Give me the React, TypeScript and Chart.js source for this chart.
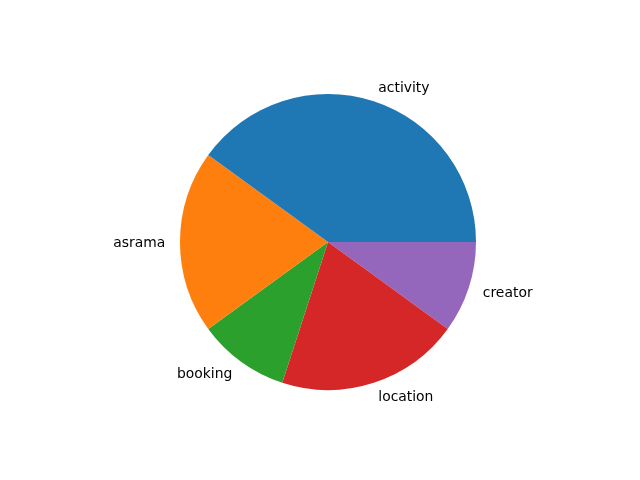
import React, { useEffect, useRef } from "react";
import { Chart, registerables } from "chart.js";

Chart.register(...registerables);

// Data in matplotlib order (counter-clockwise from 3 o'clock)
const categories = ["activity", "asrama", "booking", "location", "creator"];
const values = [40, 20, 10, 20, 10];
const colors = ["#1f77b4", "#ff7f0e", "#2ca02c", "#d62728", "#9467bd"];

// Chart.js draws clockwise, so reverse to mirror matplotlib's counter-clockwise layout
const cjLabels = [...categories].reverse();
const cjValues = [...values].reverse();
const cjColors = [...colors].reverse();

const outsideLabels = {
  id: "outsideLabels",
  afterDraw(chart: any) {
    const ctx = chart.ctx;
    const meta = chart.getDatasetMeta(0);
    ctx.save();
    ctx.font = "13.9px 'DejaVu Sans'";
    ctx.fillStyle = "#000000";
    ctx.textBaseline = "middle";
    meta.data.forEach((arc: any, i: number) => {
      const p = arc.getProps(["x", "y", "startAngle", "endAngle", "outerRadius"], true);
      const mid = (p.startAngle + p.endAngle) / 2;
      const r = p.outerRadius * 1.1;
      const x = p.x + r * Math.cos(mid);
      const y = p.y + r * Math.sin(mid) + 1;
      ctx.textAlign = Math.cos(mid) > 0 ? "left" : "right";
      ctx.fillText(String(chart.data.labels[i]), x, y);
    });
    ctx.restore();
  },
};

export default function App() {
  const ref = useRef<HTMLCanvasElement | null>(null);
  useEffect(() => {
    if (!ref.current) return;
    const chart = new Chart(ref.current, {
      type: "pie",
      data: {
        labels: cjLabels,
        datasets: [
          {
            data: cjValues,
            backgroundColor: cjColors,
            borderWidth: 0,
          },
        ],
      },
      options: {
        animation: false,
        responsive: false,
        rotation: 90,
        layout: { padding: { left: 180, right: 164, top: 94, bottom: 90 } },
        plugins: {
          legend: { display: false },
          tooltip: { enabled: false },
        },
      },
      plugins: [outsideLabels],
    });
    return () => chart.destroy();
  }, []);
  return (
    <div style={{ position: "fixed", left: 0, top: 0, width: 640, height: 480, background: "#ffffff" }}>
      <canvas ref={ref} width={640} height={480} style={{ width: 640, height: 480 }} />
    </div>
  );
}
